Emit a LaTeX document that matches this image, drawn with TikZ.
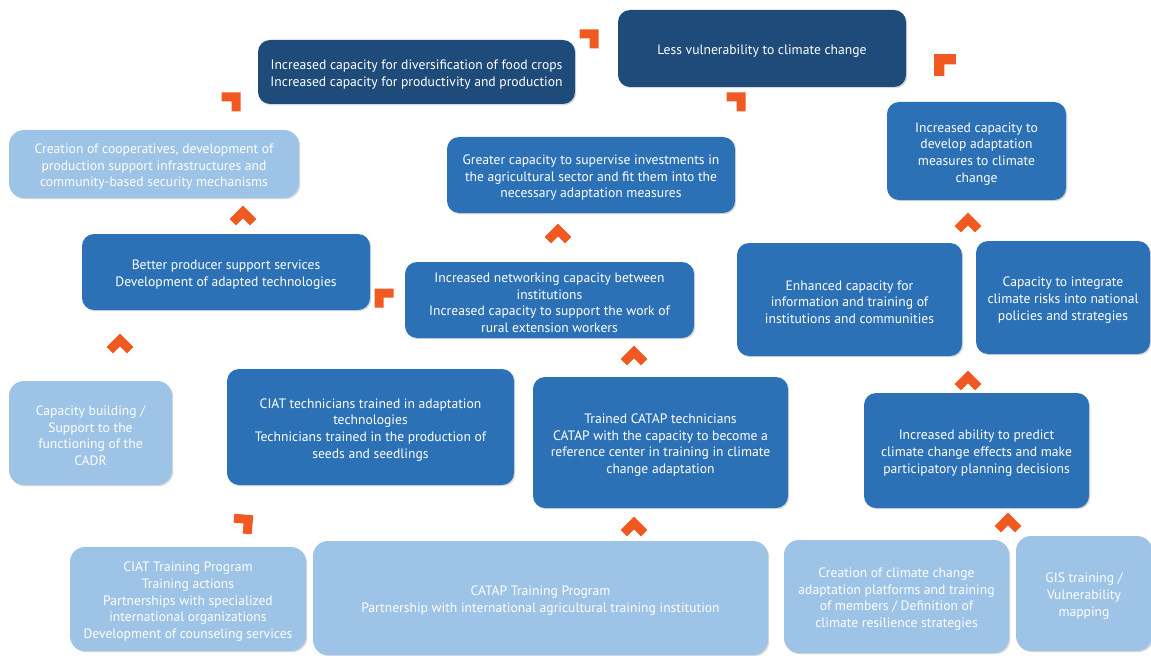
\documentclass[tikz,border=0pt]{standalone}
\usepackage{fontspec}
\setmainfont{PT Sans}
\usetikzlibrary{shadows}
\definecolor{navy}{HTML}{1F4B7A}
\definecolor{midblue}{HTML}{2C71B6}
\definecolor{lightblue}{HTML}{9DC3E6}
\definecolor{arrowor}{HTML}{F05A22}
\newcommand\topstrut{\rule{0pt}{8.6pt}}
\newcommand\mkbox[7]{\node[#2, minimum width={(#5-#3)*0.02cm}, minimum height={(#6-#4)*0.02cm}] (#1) at ({(#3+#5)/2},{(#4+#6)/2}) {\topstrut#7};}
\begin{document}
\begin{tikzpicture}[x=0.02cm,y=-0.02cm,
 box/.style={rounded corners=0.24cm, align=center, inner sep=0pt, font=\fontsize{7.75}{9.47}\selectfont, drop shadow={shadow xshift=0.7pt, shadow yshift=-0.7pt, opacity=0.3}},
 dark/.style={box, fill=navy, text=white},
 mid/.style={box, fill=midblue, text=white},
 light/.style={box, fill=lightblue, text=white, rounded corners=0.3cm},
 chev/.pic={\fill[arrowor] (9.5,-9.5) -- (-9.5,-9.5) -- (-9.5,-0.5) -- (0.5,-0.5) -- (0.5,9.5) -- (9.5,9.5) -- cycle;}]
\useasboundingbox[fill=white] (0,0) rectangle (1151,655);
\mkbox{less}{dark}{618}{10}{906}{87}{Less vulnerability to climate change}
\mkbox{div}{dark}{258}{40}{575}{104}{Increased capacity for diversification of food crops\\Increased capacity for productivity and production}
\mkbox{coop}{light}{9}{130}{299}{198}{Creation of cooperatives, development of\\production support infrastructures and\\community-based security mechanisms}
\mkbox{sup}{mid}{447}{137}{735}{213}{Greater capacity to supervise investments in\\the agricultural sector and fit them into the\\necessary adaptation measures}
\mkbox{dev}{mid}{887}{102}{1066}{200}{Increased capacity to\\develop adaptation\\measures to climate\\change}
\mkbox{better}{mid}{82}{234}{370}{310}{Better producer support services\\Development of adapted technologies}
\mkbox{net}{mid}{405}{262}{694}{338}{Increased networking capacity between\\institutions\\Increased capacity to support the work of\\rural extension workers}
\mkbox{enh}{mid}{737}{243}{962}{356}{Enhanced capacity for\\information and training of\\institutions and communities}
\mkbox{integ}{mid}{976}{241}{1150}{354}{Capacity to integrate\\climate risks into national\\policies and strategies}
\mkbox{cadr}{light}{9}{381}{172}{485}{Capacity building /\\Support to the\\functioning of the\\CADR}
\mkbox{ciat}{mid}{227}{369}{514}{485}{CIAT technicians trained in adaptation\\technologies\\Technicians trained in the production of\\seeds and seedlings}
\mkbox{catap}{mid}{533}{377}{788}{508}{Trained CATAP technicians\\CATAP with the capacity to become a\\reference center in training in climate\\change adaptation}
\mkbox{pred}{mid}{864}{393}{1089}{508}{Increased ability to predict\\climate change effects and make\\participatory planning decisions}
\mkbox{ciatp}{light}{70}{547}{306}{651}{CIAT Training Program\\Training actions\\Partnerships with specialized\\international organizations\\Development of counseling services}
\mkbox{catapp}{light}{313}{541}{768}{655}{CATAP Training Program\\Partnership with international agricultural training institution}
\mkbox{plat}{light}{784}{540}{1009}{653}{Creation of climate change\\adaptation platforms and training\\of members / Definition of\\climate resilience strategies}
\mkbox{gis}{light}{1016}{536}{1152}{651}{GIS training /\\Vulnerability\\mapping}
% markers pointing up-right
\pic at (589,39) {chev};
\pic at (231,102) {chev};
\pic at (736,102) {chev};
\pic[rotate=-5] at (243,524) {chev};
% markers pointing up-left
\pic[rotate=90,scale=1.15] at (945,65) {chev};
\pic[rotate=90] at (384,298) {chev};
% markers pointing up
\pic[rotate=45] at (243,219) {chev};
\pic[rotate=45] at (120,347) {chev};
\pic[rotate=45] at (558,237) {chev};
\pic[rotate=45] at (634,359) {chev};
\pic[rotate=45] at (968,226) {chev};
\pic[rotate=45] at (968,384) {chev};
\pic[rotate=45] at (634,530) {chev};
\pic[rotate=45] at (1008,526) {chev};
\end{tikzpicture}
\end{document}
